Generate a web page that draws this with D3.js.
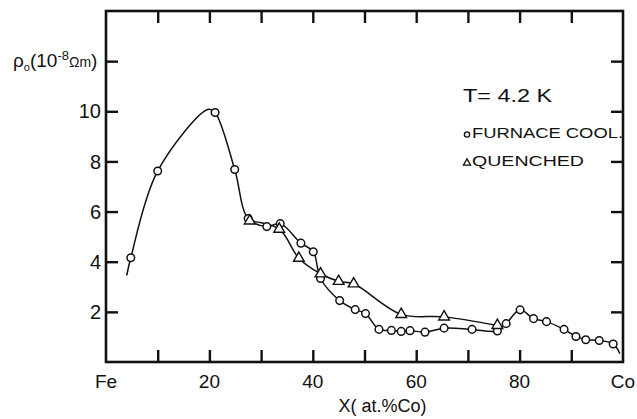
<!DOCTYPE html>
<html>
<head>
<meta charset="utf-8">
<script src="https://cdn.jsdelivr.net/npm/d3@7"></script>
<style>
  body { margin: 0; background: #fff; }
  text { font-family: "Liberation Sans", Arial, sans-serif; fill: #111; }
</style>
</head>
<body>
<div id="graph1"></div>
<script>
// data: [x at.% Co, rho in 1e-8 ohm m]
const furnaceCooled = [
  [4.8, 4.16], [10.0, 7.62], [21.1, 9.95], [24.9, 7.68], [27.5, 5.72],
  [31.1, 5.4], [33.7, 5.52], [37.7, 4.74], [40.1, 4.4], [41.5, 3.33],
  [45.2, 2.45], [48.2, 2.09], [50.2, 1.93], [52.8, 1.3], [55.2, 1.26],
  [57.1, 1.22], [58.8, 1.25], [61.7, 1.19], [65.4, 1.35], [70.8, 1.3],
  [75.7, 1.24], [77.4, 1.53], [80.1, 2.08], [82.7, 1.73], [85.2, 1.61],
  [88.6, 1.3], [90.9, 1.02], [92.8, 0.89], [95.4, 0.86], [98.1, 0.72]
];
// points of the hand-drawn curve that carry no marker (start, peak, end)
const furnaceCurveStart = [4.0, 3.45];
const furnaceCurvePeak = [19.8, 10.08];
const furnaceCurveEnd = [99.4, 0.33];

const quenched = [
  [27.8, 5.63], [33.5, 5.3], [37.3, 4.14], [41.5, 3.52], [45.0, 3.22],
  [47.9, 3.12], [57.1, 1.9], [65.4, 1.8], [75.7, 1.46]
];

const xTicks = [10, 20, 30, 40, 50, 60, 70, 80, 90];
const xLabels = [[0, "Fe"], [20, "20"], [40, "40"], [60, "60"], [80, "80"], [100, "Co"]];
const yTicks = [2, 4, 6, 8, 10, 12];
const yLabels = [2, 4, 6, 8, 10];

const margin = { top: 11, right: 14, bottom: 57, left: 106 };
const W = 637, H = 419;
const width = W - margin.left - margin.right;
const height = H - margin.top - margin.bottom;

const svg = d3.select("#graph1")
  .append("svg")
  .attr("width", W)
  .attr("height", H)
  .append("g")
  .attr("transform", "translate(" + margin.left + "," + margin.top + ")");

const x = d3.scaleLinear().domain([0, 100]).range([0, width]);
const y = d3.scaleLinear().domain([0, 14]).range([height, 0]);

// inward ticks on all four sides
const tickStyle = g => {
  g.select(".domain").remove();
  g.selectAll(".tick line").attr("stroke", "#111").attr("stroke-width", 2.4);
};
svg.append("g").attr("transform", "translate(0," + height + ")")
  .call(d3.axisBottom(x).tickValues(xTicks).tickSize(-12).tickFormat("")).call(tickStyle);
svg.append("g")
  .call(d3.axisTop(x).tickValues(xTicks).tickSize(-12).tickFormat("")).call(tickStyle);
svg.append("g")
  .call(d3.axisLeft(y).tickValues(yTicks).tickSize(-12).tickFormat("")).call(tickStyle);
svg.append("g").attr("transform", "translate(" + width + ",0)")
  .call(d3.axisRight(y).tickValues(yTicks).tickSize(-12).tickFormat("")).call(tickStyle);

// frame
svg.append("rect")
  .attr("width", width).attr("height", height)
  .attr("fill", "none").attr("stroke", "#111").attr("stroke-width", 2.6);

// tick labels
svg.selectAll(".xlab")
  .data(xLabels)
  .enter().append("text")
  .attr("x", d => x(d[0]))
  .attr("y", height + 26)
  .attr("text-anchor", "middle")
  .style("font-size", "19px")
  .text(d => d[1]);

svg.selectAll(".ylab")
  .data(yLabels)
  .enter().append("text")
  .attr("x", -5)
  .attr("y", d => y(d))
  .attr("dy", "0.36em")
  .attr("text-anchor", "end")
  .style("font-size", "20px")
  .text(d => d);

// axis titles
const yt = svg.append("text").attr("x", -93).attr("y", y(12) + 6).style("font-size", "19px");
yt.append("tspan").text("ρ");
yt.append("tspan").attr("dy", 4).style("font-size", "11px").text("o");
yt.append("tspan").attr("dy", -4).text("(10");
yt.append("tspan").attr("dy", -7).style("font-size", "13px").text("-8");
yt.append("tspan").attr("dy", 7).style("font-size", "14px").text("Ωm");
yt.append("tspan").text(")");

svg.append("text")
  .attr("x", x(53.5))
  .attr("y", height + 50)
  .attr("text-anchor", "middle")
  .style("font-size", "18px")
  .text("X( at.%Co)");

// curves
const line = d3.line()
  .x(d => x(d[0]))
  .y(d => y(d[1]))
  .curve(d3.curveCatmullRom.alpha(0.5));

const furnaceCurve = [furnaceCurveStart, ...furnaceCooled.slice(0, 2), furnaceCurvePeak,
  ...furnaceCooled.slice(2), furnaceCurveEnd];

svg.append("path")
  .datum(furnaceCurve)
  .attr("d", line)
  .attr("fill", "none").attr("stroke", "#111").attr("stroke-width", 1.5);

svg.append("path")
  .datum(quenched)
  .attr("d", line)
  .attr("fill", "none").attr("stroke", "#111").attr("stroke-width", 1.5);

// markers
svg.selectAll(".fc")
  .data(furnaceCooled)
  .enter().append("circle")
  .attr("cx", d => x(d[0]))
  .attr("cy", d => y(d[1]))
  .attr("r", 3.8)
  .attr("fill", "#fff").attr("stroke", "#111").attr("stroke-width", 1.5);

const tri = d3.symbol().type(d3.symbolTriangle).size(50);
svg.selectAll(".qu")
  .data(quenched)
  .enter().append("path")
  .attr("transform", d => "translate(" + x(d[0]) + "," + y(d[1]) + ")")
  .attr("d", tri)
  .attr("fill", "#fff").attr("stroke", "#111").attr("stroke-width", 1.4);

// legend
svg.append("text")
  .attr("x", 357).attr("y", 91)
  .attr("textLength", 89).attr("lengthAdjust", "spacingAndGlyphs")
  .style("font-size", "19px")
  .text("T= 4.2 K");

svg.append("circle")
  .attr("cx", 361).attr("cy", 123.5).attr("r", 2.6)
  .attr("fill", "#fff").attr("stroke", "#111").attr("stroke-width", 1.4);
svg.append("text")
  .attr("x", 366).attr("y", 127)
  .attr("textLength", 151).attr("lengthAdjust", "spacingAndGlyphs")
  .style("font-size", "14px")
  .text("FURNACE COOL.");

svg.append("path")
  .attr("transform", "translate(361,152)")
  .attr("d", d3.symbol().type(d3.symbolTriangle).size(22))
  .attr("fill", "#fff").attr("stroke", "#111").attr("stroke-width", 1.3);
svg.append("text")
  .attr("x", 366).attr("y", 155)
  .attr("textLength", 112).attr("lengthAdjust", "spacingAndGlyphs")
  .style("font-size", "14px")
  .text("QUENCHED");
</script>
</body>
</html>
